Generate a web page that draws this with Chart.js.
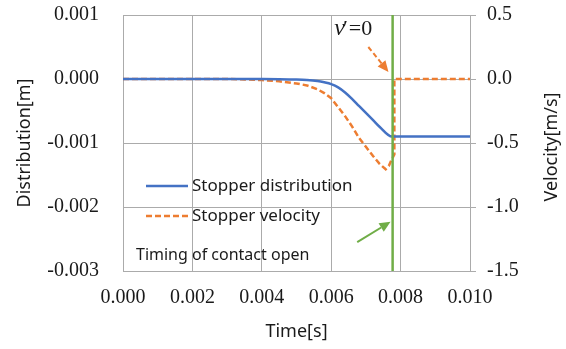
<!DOCTYPE html>
<html>
<head>
<meta charset="utf-8">
<script src="https://cdn.jsdelivr.net/npm/chart.js@4/dist/chart.umd.min.js"></script>
<style>
    html, body { margin: 0; padding: 0; background: #fff; }
    #wrap { width: 566px; height: 349px; position: relative; }
</style>
</head>
<body>
<div id="wrap"><canvas id="chart"></canvas></div>
<script>
// Tick labels
const timeTicks = [0, 0.002, 0.004, 0.006, 0.008, 0.010];
const distTicks = [-0.003, -0.002, -0.001, 0, 0.001];
const velTicks = [-1.5, -1.0, -0.5, 0, 0.5];

// Stopper distribution [m]
const distTime = [0, 0.004, 0.0045, 0.005, 0.0053, 0.0056, 0.0058, 0.006, 0.0062, 0.0064, 0.0066, 0.0068, 0.007, 0.0072, 0.0074, 0.00775, 0.010];
const distVal = [0, 0, -0.000002, -0.000008, -0.000016, -0.000032, -0.000052, -0.00008, -0.00013, -0.00021, -0.00031, -0.00042, -0.00053, -0.00064, -0.00075, -0.0009, -0.0009];

// Stopper velocity [m/s]
const velTime = [0, 0.003, 0.0035, 0.004, 0.0045, 0.005, 0.0053, 0.0056, 0.0058, 0.006, 0.0062, 0.0064, 0.0066, 0.0068, 0.007, 0.0072, 0.0074, 0.00757, 0.00766, 0.00774, 0.00782, 0.00782, 0.010];
const velVal = [0, 0, -0.003, -0.008, -0.018, -0.035, -0.05, -0.08, -0.11, -0.15, -0.22, -0.29, -0.37, -0.46, -0.53, -0.60, -0.665, -0.705, -0.68, -0.63, -0.59, 0, 0];

// Timing of contact open [s]
const contactTime = 0.00777;

// Annotations (data units)
const noteVel = [0.00707, 0.25, 0.00765, 0.055];            // orange arrow, right axis
const noteContact = [0.00675, -0.00255, 0.00771, -0.00223]; // green arrow, left axis
const noteLabel = [0.00609, 0.00068];                       // v'=0, left axis

const BLUE = '#4472C4', ORANGE = '#ED7D31', GREEN = '#70AD47', GRID = '#ABABAB', INK = '#1a1a1a';
const SERIF = '"Liberation Serif", "DejaVu Serif", serif';
const SANS = '"Noto Sans", "Open Sans", sans-serif';

const $ = id => document.getElementById(id);
const pts = (xs, ys) => xs.map((x, i) => ({ x, y: ys[i] }));
const setTicks = arr => scale => { scale.ticks = arr.map(v => ({ value: v })); };
// fixed scale sizes, no extra label padding into the plot box
const fitW = w => s => { s.width = w; s.paddingTop = 0; s.paddingBottom = 0; };

function arrow(ctx, x0, y0, x1, y1, color, dash) {
    const ang = Math.atan2(y1 - y0, x1 - x0), head = 11, half = 5;
    const bx = x1 - head * Math.cos(ang), by = y1 - head * Math.sin(ang);
    ctx.strokeStyle = color;
    ctx.fillStyle = color;
    ctx.lineWidth = 2;
    ctx.setLineDash(dash);
    ctx.beginPath();
    ctx.moveTo(x0, y0);
    ctx.lineTo(bx, by);
    ctx.stroke();
    ctx.setLineDash([]);
    ctx.beginPath();
    ctx.moveTo(x1, y1);
    ctx.lineTo(bx + half * Math.sin(ang), by - half * Math.cos(ang));
    ctx.lineTo(bx - half * Math.sin(ang), by + half * Math.cos(ang));
    ctx.closePath();
    ctx.fill();
}

// Legend, right title, annotations
const overlay = {
    id: 'overlay',
    afterDraw(chart) {
        const { ctx, chartArea: a, scales } = chart;
        const sx = scales.x, yl = scales.y, yr = scales.y1;
        ctx.save();

        // legend
        ctx.font = `17px ${SANS}`;
        ctx.textBaseline = 'middle';
        ctx.textAlign = 'left';
        const rows = [chart.data.datasets[0], chart.data.datasets[1]];
        rows.forEach((ds, i) => {
            const y = a.top + 171 + i * 30;
            ctx.strokeStyle = ds.borderColor;
            ctx.lineWidth = 2.5;
            ctx.setLineDash(ds.borderDash || []);
            ctx.beginPath();
            ctx.moveTo(a.left + 23, y);
            ctx.lineTo(a.left + 65, y);
            ctx.stroke();
            ctx.setLineDash([]);
            ctx.fillStyle = INK;
            ctx.fillText(ds.label, a.left + 69, y);
        });
        ctx.font = `16px ${SANS}`;
        ctx.fillText(chart.data.datasets[2].label, a.left + 13, a.top + 240);

        // right axis title, reading bottom to top
        ctx.save();
        ctx.translate(552, (a.top + a.bottom) / 2 + 4);
        ctx.rotate(-Math.PI / 2);
        ctx.textAlign = 'center';
        ctx.font = `18px ${SANS}`;
        ctx.fillText('Velocity[m/s]', 0, 0);
        ctx.restore();

        // v'=0
        let lx = sx.getPixelForValue(noteLabel[0]);
        const ly = yl.getPixelForValue(noteLabel[1]);
        ctx.textBaseline = 'alphabetic';
        ctx.font = `italic 24px ${SERIF}`;
        ctx.fillText('v', lx, ly);
        lx += ctx.measureText('v').width;
        ctx.font = `22px ${SERIF}`;
        ctx.fillText('\u2032', lx - 2, ly);
        lx += ctx.measureText('\u2032').width - 1;
        ctx.fillText('=0', lx, ly);

        // arrows
        arrow(ctx, sx.getPixelForValue(noteVel[0]), yr.getPixelForValue(noteVel[1]),
            sx.getPixelForValue(noteVel[2]), yr.getPixelForValue(noteVel[3]), ORANGE, [5, 3]);
        arrow(ctx, sx.getPixelForValue(noteContact[0]), yl.getPixelForValue(noteContact[1]),
            sx.getPixelForValue(noteContact[2]), yl.getPixelForValue(noteContact[3]), GREEN, []);

        ctx.restore();
    }
};

new Chart($('chart').getContext('2d'), {
    type: 'line',
    data: {
        datasets: [{
            label: 'Stopper distribution',
            data: pts(distTime, distVal),
            yAxisID: 'y',
            borderColor: BLUE,
            borderWidth: 2.5,
            pointRadius: 0,
            cubicInterpolationMode: 'monotone',
            order: 2
        }, {
            label: 'Stopper velocity',
            data: pts(velTime, velVal),
            yAxisID: 'y1',
            borderColor: ORANGE,
            borderWidth: 2.5,
            borderDash: [6, 3],
            pointRadius: 0,
            tension: 0,
            order: 3
        }, {
            label: 'Timing of contact open',
            data: pts([contactTime, contactTime], [distTicks[0], distTicks[distTicks.length - 1]]),
            yAxisID: 'y',
            borderColor: GREEN,
            borderWidth: 2.5,
            pointRadius: 0,
            order: 1
        }]
    },
    options: {
        responsive: true,
        maintainAspectRatio: false,
        animation: false,
        layout: { padding: { top: 15, left: 0, right: 0, bottom: 0 } },
        plugins: { legend: { display: false }, tooltip: { enabled: false } },
        scales: {
            x: {
                type: 'linear',
                min: timeTicks[0],
                max: timeTicks[timeTicks.length - 1],
                afterBuildTicks: setTicks(timeTicks),
                afterFit: s => { s.height = 78; s.paddingLeft = 0; s.paddingRight = 0; },
                grid: { color: GRID, drawTicks: false },
                border: { color: GRID },
                ticks: {
                    padding: 15,
                    color: INK,
                    font: { family: SERIF, size: 20 },
                    maxRotation: 0,
                    callback: v => v.toFixed(3)
                },
                title: {
                    display: true,
                    text: 'Time[s]',
                    color: INK,
                    font: { family: SANS, size: 18 },
                    padding: { top: 0, bottom: 6 }
                }
            },
            y: {
                position: 'left',
                min: distTicks[0],
                max: distTicks[distTicks.length - 1],
                afterBuildTicks: setTicks(distTicks),
                afterFit: fitW(123),
                grid: { color: GRID, drawTicks: false },
                border: { color: GRID },
                ticks: {
                    padding: 24,
                    color: INK,
                    font: { family: SERIF, size: 20 },
                    callback: v => v.toFixed(3)
                },
                title: {
                    display: true,
                    text: 'Distribution[m]',
                    color: INK,
                    font: { family: SANS, size: 18 },
                    padding: { top: 14, bottom: 0 }
                }
            },
            y1: {
                position: 'right',
                min: velTicks[0],
                max: velTicks[velTicks.length - 1],
                afterBuildTicks: setTicks(velTicks),
                afterFit: fitW(96),
                grid: { color: GRID, drawOnChartArea: false, tickLength: 6 },
                border: { color: GRID },
                ticks: {
                    padding: 11,
                    color: INK,
                    font: { family: SERIF, size: 20 },
                    callback: v => v.toFixed(1)
                }
            }
        }
    },
    plugins: [overlay]
});
</script>
</body>
</html>
